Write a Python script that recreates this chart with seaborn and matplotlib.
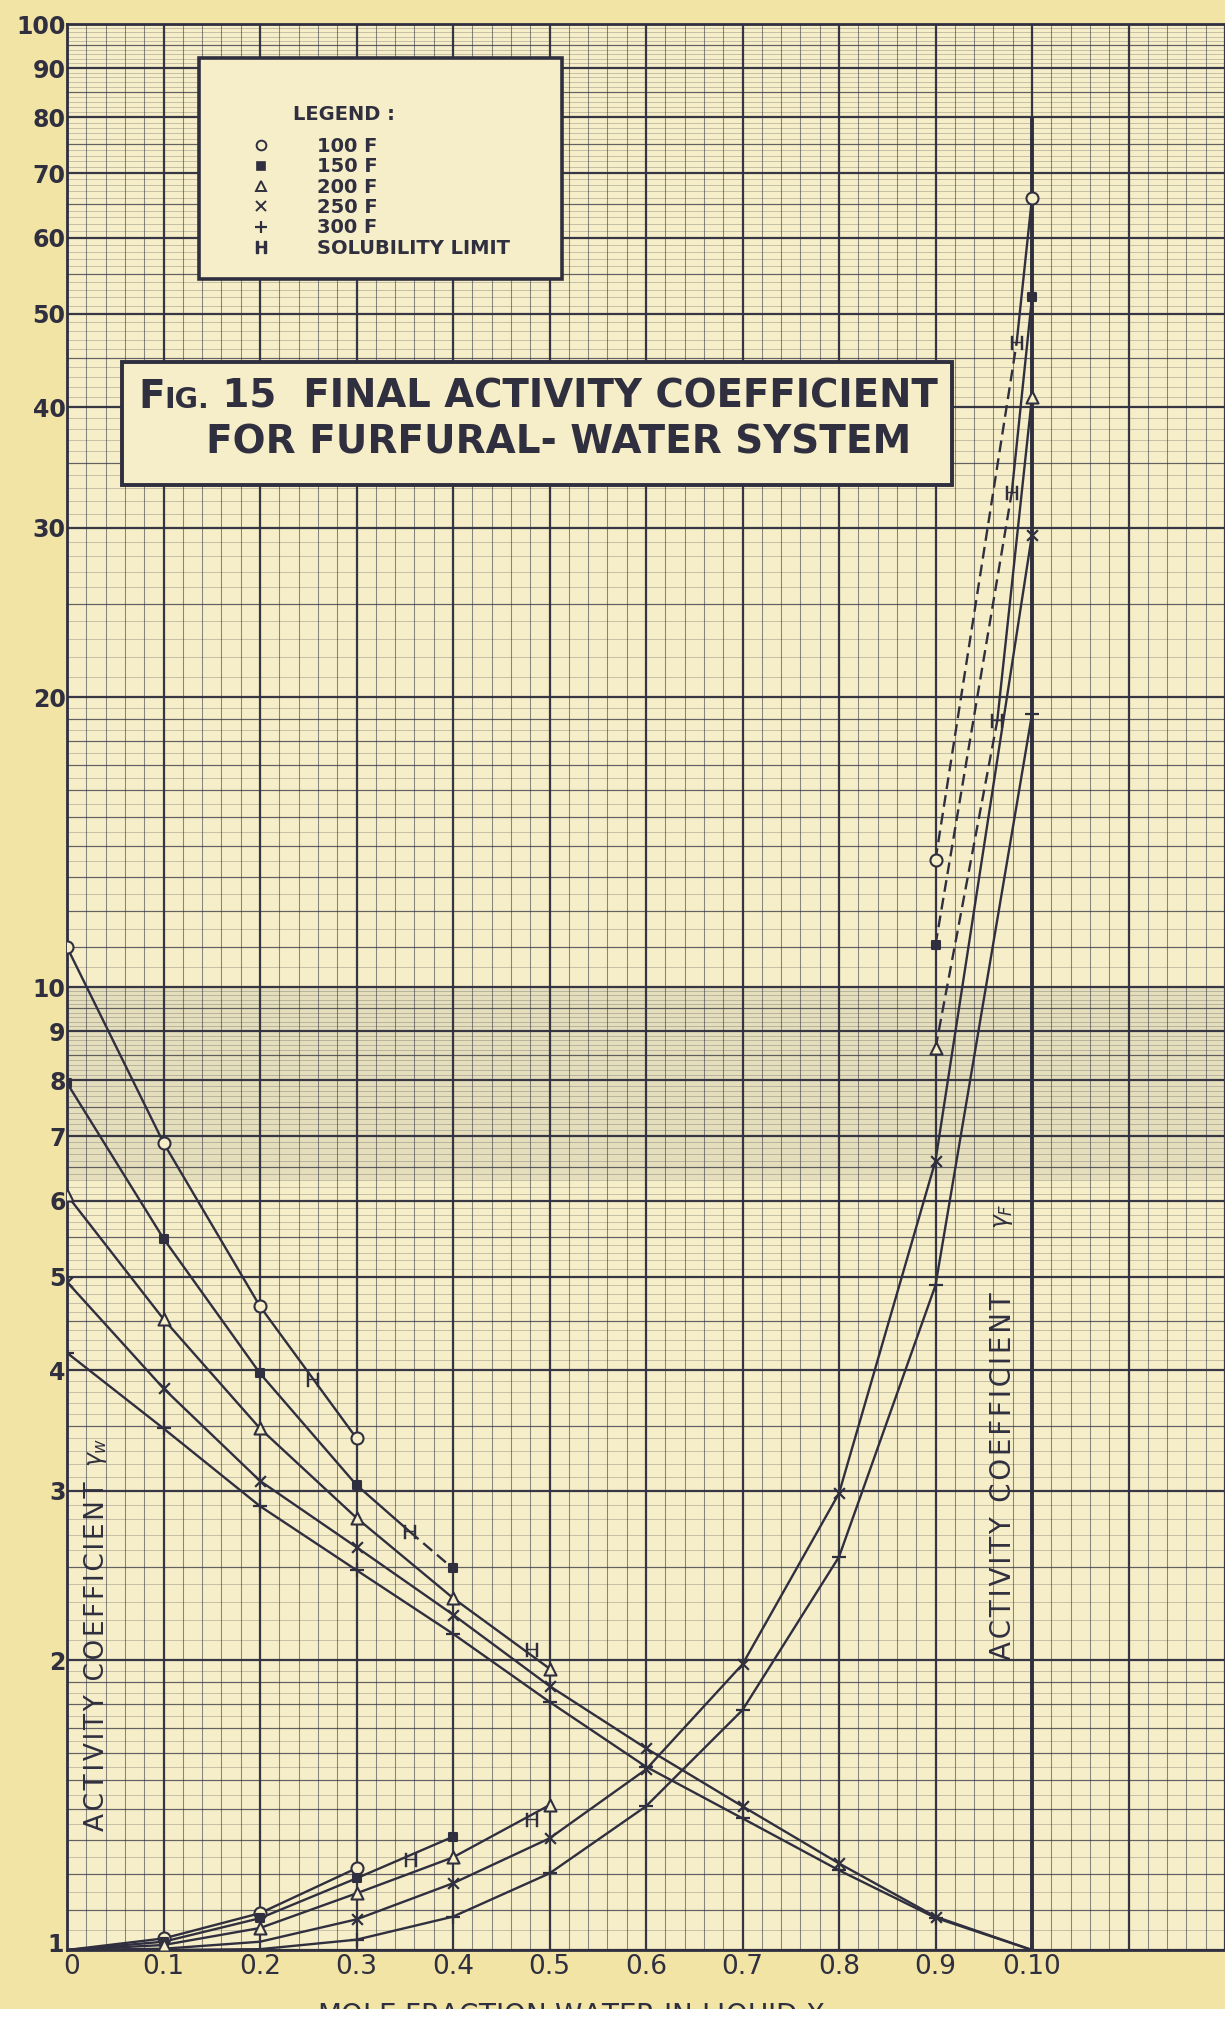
import numpy as np
import matplotlib
matplotlib.use("Agg")
import matplotlib.pyplot as plt
import matplotlib.transforms as mtransforms
import seaborn as sns
from matplotlib.lines import Line2D
from matplotlib.patches import Rectangle

# ---------------- data ----------------
XW = [0.0, 0.1, 0.2, 0.3, 0.4, 0.5, 0.6, 0.7, 0.8, 0.9, 1.0]
# activity coefficient of water (descending curves)
GW_100 = [11.0, 6.89, 4.66, 3.40]
GW_150 = [7.95, 5.48, 3.97, 3.04, 2.49]
GW_200 = [6.08, 4.52, 3.48, 2.81, 2.32, 1.96]
GW_250 = [4.94, 3.83, 3.07, 2.62, 2.23, 1.88, 1.62, 1.41, 1.23, 1.083, 1.0]
GW_300 = [4.17, 3.48, 2.89, 2.48, 2.13, 1.81, 1.55, 1.37, 1.21, 1.08, 1.0]

# activity coefficient of furfural (rising curves)
XF = [0.0, 0.1, 0.2, 0.3, 0.4, 0.5, 0.6, 0.7, 0.8, 0.9, 1.0]
GF_100_LOW = [1.0, 1.028, 1.092, 1.216]
GF_150_LOW = [1.0, 1.020, 1.079, 1.187, 1.311]
GF_200_LOW = [1.0, 1.012, 1.054, 1.145, 1.248, 1.414]
GF_250 = [1.0, 1.003, 1.020, 1.076, 1.173, 1.306, 1.54, 1.98, 2.98, 6.6, 29.5]
GF_300 = [1.0, 1.0, 1.002, 1.025, 1.083, 1.201, 1.41, 1.775, 2.56, 4.9, 19.2]
X_HIGH = [0.9, 1.0]
GF_100_HIGH = [13.55, 66.0]
GF_150_HIGH = [11.06, 52.0]
GF_200_HIGH = [8.64, 41.0]

# solubility limits (100 F, 150 F, 200 F)
SOL_W_X = [0.255, 0.355, 0.482]
SOL_W_Y = [3.91, 2.72, 2.05]
SOL_F_LOW_X = [0.356, 0.482]
SOL_F_LOW_Y = [1.24, 1.365]
SOL_F_HIGH_X = [0.984, 0.979, 0.964]
SOL_F_HIGH_Y = [46.6, 32.6, 18.9]

Y_TICKS = [1, 2, 3, 4, 5, 6, 7, 8, 9, 10, 20, 30, 40, 50, 60, 70, 80, 90, 100]
Y_LABELS = [str(v) for v in Y_TICKS]
X_TICKS = [0.0, 0.1, 0.2, 0.3, 0.4, 0.5, 0.6, 0.7, 0.8, 0.9, 1.0]
X_LABELS = ["0", "0.1", "0.2", "0.3", "0.4", "0.5", "0.6", "0.7", "0.8", "0.9", "0.10"]

LEGEND_LABELS = ["100 F", "150 F", "200 F", "250 F", "300 F", "SOLUBILITY LIMIT"]

# ---------------- style ----------------
W, H = 1225, 2017
INK = "#2f2f3f"
PAPER_OUT = "#f2e4a4"
PAPER_IN = "#f6eec8"
SOL_MARK = r"$\mathsf{H}$"
HS = "\u200a"  # hair space for the wide lettering

sns.set_style("white")
plt.rcParams["font.family"] = ["DejaVu Sans"]
plt.rcParams["mathtext.fontset"] = "dejavusans"

fig = plt.figure(figsize=(W / 100, H / 100), dpi=100, facecolor=PAPER_OUT)


def fx(px):
    return px / W


def fy(py):
    return 1 - py / H


ax = fig.add_axes([fx(67), fy(1950), fx(1225) - fx(67), fy(24) - fy(1950)])
ax.set_facecolor(PAPER_IN)
ax.set_yscale("log")
XMAX = 1158 / 965
ax.set_xlim(0, XMAX)
ax.set_ylim(1, 100)

# ---------------- graph-paper grid ----------------
def frange(a, b, step):
    return np.round(np.arange(a, b + step / 2, step), 6)

fine_lo = np.concatenate([frange(1, 2, 0.05), frange(2, 5, 0.1), frange(5, 10, 0.1)])
fine_y = np.unique(np.concatenate([fine_lo, fine_lo * 10]))
med_lo = np.concatenate([frange(1.1, 1.9, 0.1), [2.5, 3.5, 4.5, 5.5, 6.5, 7.5, 8.5, 9.5]])
med_y = np.concatenate([med_lo, med_lo * 10])
maj_y = np.array(Y_TICKS, dtype=float)

ax.hlines(fine_y, 0, XMAX, color=INK, lw=0.45, alpha=0.38, zorder=0.5)
ax.hlines(med_y, 0, XMAX, color=INK, lw=0.9, alpha=0.65, zorder=0.6)
ax.hlines(maj_y, 0, XMAX, color=INK, lw=1.6, alpha=0.95, zorder=0.7)
ax.vlines(frange(0, 1.2, 0.02), 1, 100, color=INK, lw=0.75, alpha=0.55, zorder=0.5)
ax.vlines(frange(0, 1.2, 0.1), 1, 100, color=INK, lw=1.6, alpha=0.95, zorder=0.7)
ax.axhspan(6.3, 10, color="#55555c", alpha=0.10, lw=0, zorder=0.4)
ax.vlines([1.0], 1, 80, color=INK, lw=2.8, zorder=2)

for side in ["left", "bottom", "top"]:
    ax.spines[side].set_color(INK)
    ax.spines[side].set_linewidth(2.0)
ax.spines["right"].set_visible(False)

# ---------------- curves ----------------
def curve(x, y, dashed=False):
    kw = dict(linestyle=(0, (5, 2.6))) if dashed else {}
    sns.lineplot(x=list(x), y=list(y), ax=ax, color=INK, lw=1.7, sort=False,
                 estimator=None, errorbar=None, zorder=3, **kw)


def marks(x, y, marker, s, face=PAPER_IN):
    x, y = list(x), list(y)
    if marker in ("x", "+"):
        sns.scatterplot(x=x, y=y, ax=ax, marker=marker, s=s, color=INK,
                        linewidth=1.6, zorder=4)
    elif marker.startswith("$"):
        sns.scatterplot(x=x, y=y, ax=ax, marker=marker, s=s, facecolor=INK,
                        edgecolor=INK, linewidth=0.3, zorder=4)
    else:
        sns.scatterplot(x=x, y=y, ax=ax, marker=marker, s=s, facecolor=face,
                        edgecolor=INK, linewidth=1.5, zorder=4)

# gamma water
curve(XW[:4], GW_100)
curve(XW[:4] + [SOL_W_X[1]], GW_150[:4] + [SOL_W_Y[1]])
curve([SOL_W_X[1], XW[4]], [SOL_W_Y[1], GW_150[4]], dashed=True)
curve(XW[:6], GW_200)
curve(XW, GW_250)
curve(XW, GW_300)

# gamma furfural
curve(XF[:4], GF_100_LOW)
curve(XF[:5], GF_150_LOW)
curve(XF[:6], GF_200_LOW)
curve(XF, GF_250)
curve(XF, GF_300)
for yh, sx, sy in zip([GF_100_HIGH, GF_150_HIGH, GF_200_HIGH], SOL_F_HIGH_X, SOL_F_HIGH_Y):
    curve([X_HIGH[0], sx], [yh[0], sy], dashed=True)
    curve([sx, X_HIGH[1]], [sy, yh[1]])

# markers
marks(XW[:4], GW_100, "o", 75)
marks(XW[:5], GW_150, "s", 34, face=INK)
marks(XW[:6], GW_200, "^", 75)
marks(XW[:10], GW_250[:10], "x", 60)
marks(XW[:10], GW_300[:10], "+", 95)

marks(XF[1:4] + X_HIGH, GF_100_LOW[1:] + GF_100_HIGH, "o", 75)
marks(XF[1:5] + X_HIGH, GF_150_LOW[1:] + GF_150_HIGH, "s", 34, face=INK)
marks(XF[1:6] + X_HIGH, GF_200_LOW[1:] + GF_200_HIGH, "^", 75)
marks(XF[3:], GF_250[3:], "x", 60)
marks(XF[3:], GF_300[3:], "+", 95)

marks(SOL_W_X + SOL_F_LOW_X + SOL_F_HIGH_X, SOL_W_Y + SOL_F_LOW_Y + SOL_F_HIGH_Y,
      SOL_MARK, 110)

# ---------------- ticks ----------------
ax.set_yticks(Y_TICKS)
ax.set_yticklabels(Y_LABELS, fontsize=17, fontweight="bold", color=INK)
ax.yaxis.set_minor_locator(matplotlib.ticker.NullLocator())
ax.set_xticks(X_TICKS)
ax.set_xticklabels(X_LABELS, fontsize=19, color=INK)
ax.tick_params(axis="both", length=0)
ax.tick_params(axis="y", pad=1)
ax.tick_params(axis="x", pad=3)
ax.set_xlabel("")
ax.set_ylabel("")
# the "1" sits a little above the base line and the "0" a little to the right
lab1 = ax.get_yticklabels()[0]
lab1.set_transform(lab1.get_transform() +
                   mtransforms.ScaledTranslation(-2 / 100, 8 / 100, fig.dpi_scale_trans))
lab0 = ax.get_xticklabels()[0]
lab0.set_transform(lab0.get_transform() +
                   mtransforms.ScaledTranslation(5 / 100, 0, fig.dpi_scale_trans))

# in-plot axis titles
ax.text(0.031, 1.33, HS.join("ACTIVITY COEFFICIENT"),
        rotation=90, ha="center", va="bottom", fontsize=19, color=INK, zorder=5)
ax.text(0.031, 3.17, r"$\gamma_w$", rotation=90, ha="center", va="bottom",
        fontsize=17, color=INK, zorder=5)
ax.text(0.970, 2.0, HS.join("ACTIVITY COEFFICIENT"),
        rotation=90, ha="center", va="bottom", fontsize=20, color=INK, zorder=5)
ax.text(0.970, 5.6, r"$\gamma_F$", rotation=90, ha="center", va="bottom",
        fontsize=17, color=INK, zorder=5)

# ---------------- legend box ----------------
fig.add_artist(Rectangle((fx(199), fy(279)), fx(562) - fx(199), fy(58) - fy(279),
                         transform=fig.transFigure, facecolor=PAPER_IN,
                         edgecolor=INK, lw=2.6, zorder=5))
fig.text(fx(293), fy(114), "LEGEND :", fontsize=14, fontweight="bold", color=INK,
         va="center", ha="left", zorder=7)
handles = [
    Line2D([], [], ls="none", marker="o", ms=7, mfc=PAPER_IN, mec=INK, mew=1.4),
    Line2D([], [], ls="none", marker="s", ms=5.5, mfc=INK, mec=INK, mew=1.2),
    Line2D([], [], ls="none", marker="^", ms=7.5, mfc=PAPER_IN, mec=INK, mew=1.4),
    Line2D([], [], ls="none", marker="x", ms=6.5, mec=INK, mew=1.4),
    Line2D([], [], ls="none", marker="+", ms=8, mec=INK, mew=1.6),
    Line2D([], [], ls="none", marker=SOL_MARK, ms=9, mec=INK, mfc=INK),
]
leg = fig.legend(handles, LEGEND_LABELS, loc="upper left",
                 bbox_to_anchor=(fx(251), fy(137)), frameon=False,
                 handlelength=1.0, handletextpad=2.4, labelspacing=0.07,
                 borderpad=0, borderaxespad=0,
                 prop=dict(family="DejaVu Sans", weight="bold", size=14))
for t in leg.get_texts():
    t.set_color(INK)
leg.set_zorder(7)

# ---------------- title box ----------------
fig.add_artist(Rectangle((fx(122), fy(485)), fx(952) - fx(122), fy(362) - fy(485),
                         transform=fig.transFigure, facecolor=PAPER_IN,
                         edgecolor=INK, lw=2.8, zorder=5))
TKW = dict(fontweight="bold", color=INK, va="baseline", ha="left", zorder=7)
t1 = fig.text(fx(138), fy(408), "F", fontsize=28, **TKW)
fig.canvas.draw()
bb = t1.get_window_extent()
t2 = fig.text(bb.x1 / W, fy(408), "IG.", fontsize=20.5, **TKW)
fig.canvas.draw()
bb = t2.get_window_extent()
fig.text(bb.x1 / W, fy(408), " 15  FINAL ACTIVITY COEFFICIENT", fontsize=27.8, **TKW)
fig.text(fx(206), fy(453), "FOR FURFURAL- WATER SYSTEM", fontsize=28, **TKW)

# ---------------- cut-off x label and white scan edge ----------------
fig.text(fx(582), fy(2024), r"MOLE FRACTION WATER IN LIQUID X$_W$", fontsize=20,
         color=INK, ha="center", va="baseline", zorder=7)
fig.add_artist(Rectangle((0, 0), 1, fy(2009), transform=fig.transFigure,
                         facecolor="white", edgecolor="none", zorder=9))

fig.savefig("out.png", dpi=100, facecolor=fig.get_facecolor())
